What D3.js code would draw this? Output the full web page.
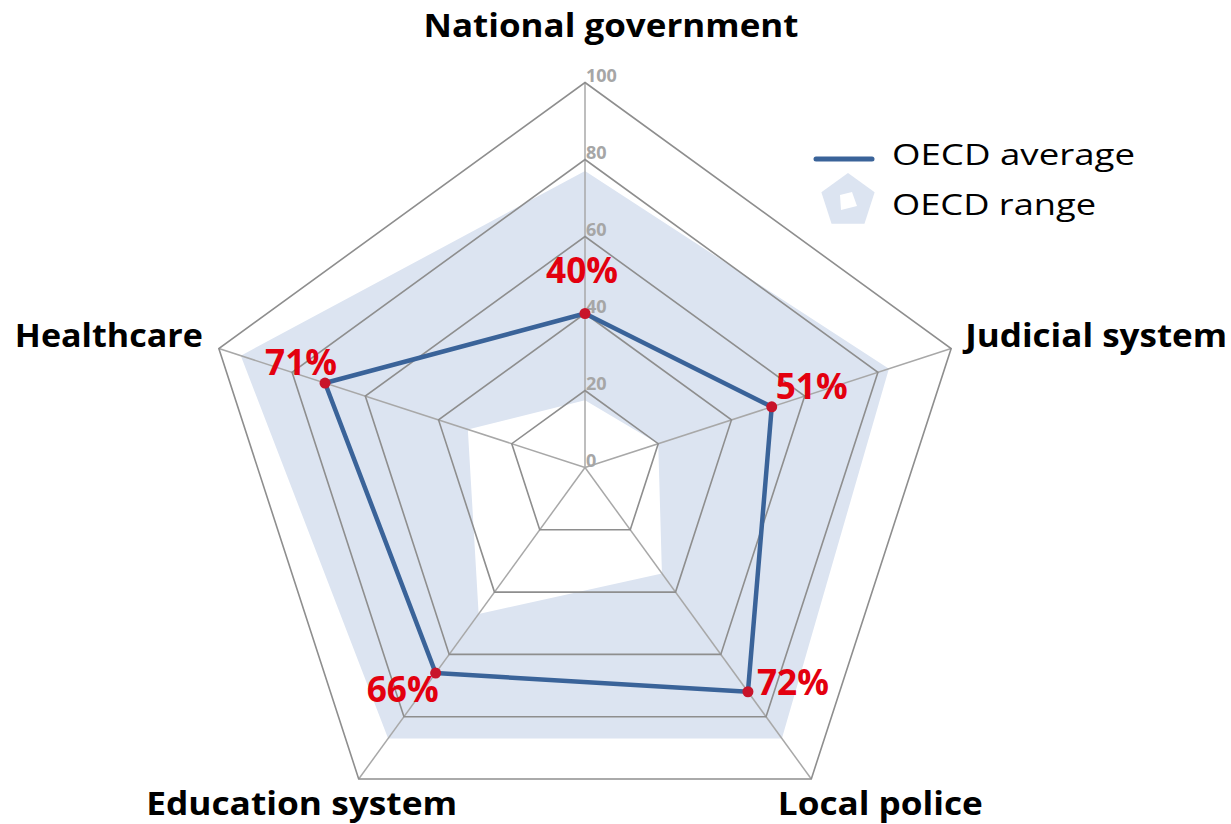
<!DOCTYPE html>
<html>
<head>
<meta charset="utf-8">
<script src="https://cdn.jsdelivr.net/npm/d3@7"></script>
<style>
  html, body { margin: 0; padding: 0; background: #fff; }
  svg { display: block; }
</style>
</head>
<body>
<svg id="chart" width="1231" height="824"></svg>
<script>
// Trust in public institutions: OECD average and range (per cent)
const categories = ["National government", "Judicial system", "Local police", "Education system", "Healthcare"];
const averageValues = [40, 51, 72, 66, 71];
const rangeMax = [77, 83, 87, 87, 94];
const rangeMin = [17.5, 20, 34, 47, 32];
const tickValues = [0, 20, 40, 60, 80, 100];
const legendLabels = ["OECD average", "OECD range"];

const svg = d3.select("#chart");
const cx = 585, cy = 467.5, R = 385;
const n = categories.length;
const angle = i => i * 2 * Math.PI / n;
const r = d3.scaleLinear().domain([0, 100]).range([0, R]);
const pt = (v, i) => [cx + r(v) * Math.sin(angle(i)), cy - r(v) * Math.cos(angle(i))];

const radial = d3.lineRadial()
  .angle((d, i) => angle(i))
  .radius(d => r(d))
  .curve(d3.curveLinearClosed);

const g = svg.append("g").attr("transform", `translate(${cx},${cy})`);

// range band: outer max polygon with the min polygon cut out
g.append("path")
  .attr("d", radial(rangeMax) + radial(rangeMin))
  .attr("fill", "#dce4f1")
  .attr("fill-rule", "evenodd");

// spokes
g.selectAll("line.spoke")
  .data(categories)
  .join("line")
  .attr("class", "spoke")
  .attr("x1", 0).attr("y1", 0)
  .attr("x2", (d, i) => r(100) * Math.sin(angle(i)))
  .attr("y2", (d, i) => -r(100) * Math.cos(angle(i)))
  .attr("stroke", "#a8a8a8")
  .attr("stroke-width", 1.5);

// concentric pentagons
g.selectAll("path.ring")
  .data(tickValues.filter(t => t > 0))
  .join("path")
  .attr("class", "ring")
  .attr("d", t => radial(categories.map(() => t)))
  .attr("fill", "none")
  .attr("stroke", "#8e8e8e")
  .attr("stroke-width", 1.6);

// tick labels along the vertical axis
g.selectAll("text.tick")
  .data(tickValues)
  .join("text")
  .attr("class", "tick")
  .attr("x", 1)
  .attr("y", t => -r(t) - 1)
  .attr("font-family", "Open Sans, sans-serif")
  .attr("font-weight", 700)
  .attr("font-size", 18)
  .attr("fill", "#a6a6a6")
  .text(t => t);

// average line
g.append("path")
  .attr("d", radial(averageValues))
  .attr("fill", "none")
  .attr("stroke", "#3a6399")
  .attr("stroke-width", 4.5)
  .attr("stroke-linejoin", "round");

g.selectAll("circle.dot")
  .data(averageValues)
  .join("circle")
  .attr("class", "dot")
  .attr("cx", (v, i) => r(v) * Math.sin(angle(i)))
  .attr("cy", (v, i) => -r(v) * Math.cos(angle(i)))
  .attr("r", 5.5)
  .attr("fill", "#c8142a");

// value labels, offset from each point
const valueLabelOffsets = [
  { dx: -3, dy: -31, anchor: "middle" },
  { dx: 4, dy: -8, anchor: "start" },
  { dx: 9, dy: 3, anchor: "start" },
  { dx: 3, dy: 29, anchor: "end" },
  { dx: 12, dy: -8.5, anchor: "end" }
];
svg.selectAll("text.value")
  .data(averageValues)
  .join("text")
  .attr("class", "value")
  .attr("x", (v, i) => pt(v, i)[0] + valueLabelOffsets[i].dx)
  .attr("y", (v, i) => pt(v, i)[1] + valueLabelOffsets[i].dy)
  .attr("text-anchor", (v, i) => valueLabelOffsets[i].anchor)
  .attr("font-family", "Open Sans, sans-serif")
  .attr("font-weight", 700)
  .attr("font-size", 35)
  .attr("fill", "#e3000f")
  .attr("textLength", 72)
  .attr("lengthAdjust", "spacingAndGlyphs")
  .text(v => v + "%");

// category labels around the outer ring
const categoryLabelLayout = [
  { dx: 26, dy: -46, anchor: "middle", width: 375 },
  { dx: 14, dy: -2, anchor: "start", width: 262 },
  { dx: 69, dy: 36, anchor: "middle", width: 205 },
  { dx: -57, dy: 36, anchor: "middle", width: 311 },
  { dx: -16, dy: -2, anchor: "end", width: 188 }
];
svg.selectAll("text.cat")
  .data(categories)
  .join("text")
  .attr("class", "cat")
  .attr("x", (c, i) => pt(100, i)[0] + categoryLabelLayout[i].dx)
  .attr("y", (c, i) => pt(100, i)[1] + categoryLabelLayout[i].dy)
  .attr("text-anchor", (c, i) => categoryLabelLayout[i].anchor)
  .attr("font-family", "Open Sans, sans-serif")
  .attr("font-weight", 700)
  .attr("font-size", 33)
  .attr("fill", "#000")
  .attr("textLength", (c, i) => categoryLabelLayout[i].width)
  .attr("lengthAdjust", "spacingAndGlyphs")
  .text(c => c);

// legend
const legend = svg.append("g").attr("transform", "translate(816,0)");
legend.append("line")
  .attr("x1", 0).attr("x2", 56)
  .attr("y1", 159).attr("y2", 159)
  .attr("stroke", "#3a6399")
  .attr("stroke-width", 5)
  .attr("stroke-linecap", "round");

const icon = legend.append("g").attr("transform", "translate(32,201)");
const iconOuter = d3.range(5).map(i => [28 * Math.sin(angle(i)), -28 * Math.cos(angle(i))]);
const iconInner = [[-8, -6], [4, -9], [9, 5], [-7, 9]];
icon.append("path")
  .attr("d", "M" + iconOuter.join("L") + "Z" + "M" + iconInner.join("L") + "Z")
  .attr("fill", "#dce4f1")
  .attr("fill-rule", "evenodd");

const legendWidths = [243, 204];
legend.selectAll("text.leg")
  .data(legendLabels)
  .join("text")
  .attr("class", "leg")
  .attr("x", 76)
  .attr("y", (d, i) => 165 + i * 50)
  .attr("font-family", "Open Sans, sans-serif")
  .attr("font-size", 30)
  .attr("fill", "#000")
  .attr("textLength", (d, i) => legendWidths[i])
  .attr("lengthAdjust", "spacingAndGlyphs")
  .text(d => d);
</script>
</body>
</html>
